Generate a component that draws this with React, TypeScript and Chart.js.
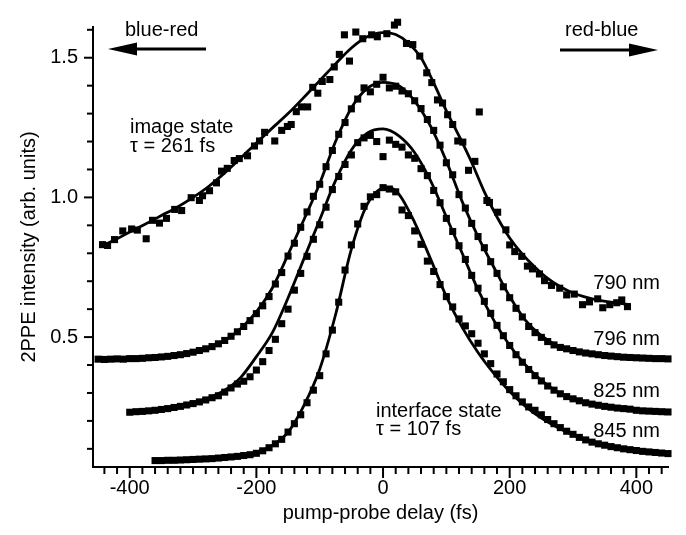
import React, { useEffect, useRef } from 'react';
import { Chart, registerables } from 'chart.js';
Chart.register(...registerables);

const FONT = "'Liberation Sans', Arial, Helvetica, sans-serif";

// tick labels
const xTickLabels = [-400, -200, 0, 200, 400];
const yTickLabels = [0.5, 1.0, 1.5];

// 790 nm (image state) measured points
const delay790 = [-443,-435,-424,-411,-397,-388,-374,-364,-353,-342,-329,-318,-303,-290,-285,-274,-263,-255,-246,-235,-227,-214,-203,-195,-187,-171,-160,-151,-145,-137,-129,-119,-111,-103,-96,-84,-77,-69,-61,-53,-43,-32,-18,-9,-1,6,18,23,37,47,58,69,77,86,94,102,110,118,126,135,145,152,164,168,181,194,200,208,219,228,236,247,255,266,279,290,302,315,326,339,347,358,369,377,386];
const signal790 = [0.831,0.828,0.849,0.880,0.887,0.883,0.852,0.918,0.908,0.925,0.957,0.953,0.999,0.989,1.006,1.024,1.052,1.094,1.104,1.132,1.139,1.149,1.184,1.202,1.233,1.202,1.240,1.254,1.261,1.307,1.324,1.324,1.394,1.373,1.415,1.422,1.467,1.512,1.582,1.488,1.592,1.568,1.582,1.575,1.631,1.586,1.617,1.627,1.551,1.547,1.506,1.446,1.411,1.349,1.338,1.296,1.261,1.202,1.198,1.097,1.129,1.306,0.989,0.982,0.947,0.884,0.830,0.806,0.789,0.754,0.744,0.726,0.702,0.685,0.675,0.651,0.654,0.616,0.626,0.637,0.605,0.616,0.623,0.633,0.609];

// 796 nm measured points
const delay796 = [-450,-440,-430,-420,-410,-400,-390,-380,-370,-360,-350,-340,-330,-320,-310,-300,-290,-280,-270,-260,-250,-240,-230,-220,-210,-200,-190,-180,-170,-160,-150,-140,-130,-120,-110,-100,-90,-80,-70,-60,-50,-40,-30,-20,-10,0,10,20,30,40,50,60,70,80,90,100,110,120,130,140,150,160,170,180,190,200,210,220,230,240,250,260,270,280,290,300,310,320,330,340,350,360,370,380,390,400,410,420,430,440,450];
const signal796 = [0.421,0.420,0.421,0.422,0.421,0.423,0.423,0.424,0.426,0.427,0.429,0.431,0.434,0.437,0.441,0.446,0.452,0.458,0.466,0.476,0.488,0.503,0.519,0.538,0.559,0.584,0.612,0.645,0.690,0.731,0.790,0.836,0.893,0.948,1.004,1.047,1.110,1.168,1.226,1.268,1.317,1.352,1.392,1.378,1.405,1.430,1.392,1.398,1.381,1.371,1.346,1.318,1.279,1.240,1.187,1.124,1.081,1.010,0.962,0.907,0.860,0.820,0.770,0.728,0.680,0.641,0.603,0.572,0.538,0.516,0.499,0.484,0.472,0.463,0.458,0.452,0.447,0.443,0.440,0.437,0.434,0.432,0.430,0.428,0.427,0.426,0.425,0.424,0.423,0.423,0.422];

// 825 nm measured points
const delay825 = [-400,-390,-380,-370,-360,-350,-340,-330,-320,-310,-300,-290,-280,-270,-260,-250,-240,-230,-220,-210,-200,-190,-180,-170,-160,-150,-140,-130,-120,-110,-100,-90,-80,-70,-60,-50,-40,-30,-20,-10,0,10,20,30,40,50,60,70,80,90,100,110,120,130,140,150,160,170,180,190,200,210,220,230,240,250,260,270,280,290,300,310,320,330,340,350,360,370,380,390,400,410,420,430,440,450];
const signal825 = [0.231,0.233,0.234,0.236,0.238,0.241,0.244,0.248,0.252,0.257,0.262,0.268,0.275,0.283,0.290,0.303,0.318,0.332,0.342,0.358,0.382,0.412,0.452,0.492,0.548,0.600,0.668,0.728,0.789,0.850,0.902,0.965,1.028,1.075,1.118,1.152,1.196,1.213,1.222,1.200,1.146,1.205,1.190,1.180,1.152,1.140,1.103,1.078,1.025,0.981,0.925,0.878,0.827,0.778,0.721,0.675,0.628,0.585,0.542,0.505,0.470,0.437,0.410,0.384,0.362,0.343,0.325,0.310,0.297,0.287,0.279,0.272,0.265,0.260,0.256,0.252,0.249,0.246,0.244,0.242,0.238,0.236,0.235,0.234,0.233,0.232];

// 845 nm (interface state) measured points
const delay845 = [-360,-350,-340,-330,-320,-310,-300,-290,-280,-270,-260,-250,-240,-230,-220,-210,-200,-190,-180,-170,-160,-150,-140,-130,-120,-110,-100,-90,-80,-70,-60,-50,-40,-30,-20,-10,0,10,20,30,40,50,60,70,80,90,100,110,120,130,140,150,160,170,180,190,200,210,220,230,240,250,260,270,280,290,300,310,320,330,340,350,360,370,380,390,400,410,420,430,440,450];
const signal845 = [0.058,0.058,0.059,0.059,0.060,0.061,0.062,0.063,0.064,0.065,0.067,0.069,0.071,0.073,0.076,0.079,0.084,0.093,0.104,0.118,0.134,0.160,0.190,0.222,0.265,0.310,0.362,0.440,0.525,0.625,0.740,0.830,0.905,0.968,1.002,1.010,1.035,1.030,1.020,0.955,0.935,0.880,0.832,0.772,0.735,0.688,0.645,0.608,0.565,0.540,0.512,0.478,0.440,0.405,0.368,0.340,0.312,0.290,0.268,0.250,0.238,0.222,0.205,0.190,0.176,0.163,0.152,0.141,0.132,0.124,0.118,0.113,0.108,0.104,0.100,0.097,0.094,0.091,0.089,0.087,0.085,0.083];

// fitted curves
const fitDelay790 = [-443,-420,-400,-375,-350,-325,-300,-275,-250,-225,-200,-175,-150,-125,-100,-75,-50,-25,0,20,40,60,80,100,120,140,160,180,200,220,240,260,280,300,340,390];
const fit790 = [0.826,0.852,0.876,0.905,0.935,0.965,1.0,1.04,1.088,1.14,1.195,1.248,1.30,1.358,1.418,1.478,1.535,1.575,1.59,1.583,1.553,1.50,1.41,1.31,1.22,1.125,1.02,0.93,0.855,0.797,0.75,0.71,0.68,0.658,0.632,0.616];

const fitDelay796 = [-450,-400,-350,-300,-275,-250,-225,-200,-175,-150,-125,-100,-75,-50,-25,0,25,50,75,100,125,150,175,200,225,250,275,300,350,400,450];
const fit796 = [0.42,0.423,0.43,0.446,0.462,0.488,0.53,0.59,0.675,0.795,0.92,1.05,1.2,1.32,1.39,1.412,1.40,1.345,1.255,1.13,0.985,0.86,0.75,0.645,0.56,0.505,0.47,0.452,0.434,0.425,0.421];

const fitDelay825 = [-400,-350,-300,-275,-250,-225,-200,-175,-150,-125,-100,-75,-50,-25,0,25,50,75,100,125,150,175,200,225,250,275,300,350,400,450];
const fit825 = [0.232,0.243,0.265,0.283,0.31,0.355,0.43,0.515,0.64,0.78,0.92,1.06,1.17,1.23,1.245,1.22,1.16,1.06,0.93,0.80,0.67,0.56,0.47,0.40,0.345,0.305,0.28,0.25,0.237,0.232];

const fitDelay845 = [-358,-300,-250,-200,-175,-150,-125,-100,-75,-50,-25,0,10,25,50,75,100,125,150,175,200,225,250,300,350,400,450];
const fit845 = [0.058,0.063,0.071,0.088,0.112,0.16,0.255,0.385,0.58,0.815,0.975,1.033,1.035,1.012,0.91,0.78,0.645,0.535,0.445,0.37,0.305,0.252,0.21,0.15,0.115,0.095,0.082];

const toPoints = (xs: number[], ys: number[]) => xs.map((x, i) => ({ x, y: ys[i] }));

const pointSet = (label: string, xs: number[], ys: number[]) => ({
  label,
  data: toPoints(xs, ys),
  showLine: false,
  pointStyle: 'rect',
  pointRadius: 5,
  pointBorderWidth: 0,
  pointBackgroundColor: '#000',
  backgroundColor: '#000',
  borderColor: '#000',
  clip: false,
});

const fitSet = (label: string, xs: number[], ys: number[]) => ({
  label,
  data: toPoints(xs, ys),
  showLine: true,
  pointRadius: 0,
  borderColor: '#000',
  borderWidth: 2.8,
  cubicInterpolationMode: 'monotone',
  fill: false,
  clip: false,
});

const decorations = {
  id: 'decorations',
  afterDraw(chart: any) {
    const { ctx, chartArea } = chart;
    const xs = chart.scales.x;
    const ys = chart.scales.y;
    ctx.save();
    ctx.strokeStyle = '#000';
    ctx.fillStyle = '#000';
    ctx.lineWidth = 2;
    // x ticks (every 20 fs, major every 200 fs)
    for (let v = -440; v <= 440; v += 20) {
      const px = xs.getPixelForValue(v);
      const major = xTickLabels.includes(v);
      ctx.beginPath();
      ctx.moveTo(px, chartArea.bottom);
      ctx.lineTo(px, chartArea.bottom + (major ? 11 : 7));
      ctx.stroke();
    }
    // y ticks (every 0.1, major every 0.5)
    for (let k = 1; k <= 16; k++) {
      const v = k / 10;
      const py = ys.getPixelForValue(v);
      const major = k % 5 === 0;
      ctx.beginPath();
      ctx.moveTo(chartArea.left, py);
      ctx.lineTo(chartArea.left - (major ? 9 : 6), py);
      ctx.stroke();
    }
    // texts
    ctx.font = `20px ${FONT}`;
    ctx.textBaseline = 'alphabetic';
    ctx.textAlign = 'left';
    ctx.fillText('blue-red', 125, 36);
    ctx.fillText('red-blue', 565, 36);
    ctx.fillText('image state', 130, 133);
    ctx.fillText('\u03C4 = 261 fs', 130, 152);
    ctx.fillText('interface state', 376, 417);
    ctx.fillText('\u03C4 = 107 fs', 376, 435);
    ctx.textAlign = 'right';
    ctx.fillText('790 nm', 660, 289);
    ctx.fillText('796 nm', 660, 345);
    ctx.fillText('825 nm', 660, 397);
    ctx.fillText('845 nm', 660, 437);
    // arrows
    ctx.lineWidth = 3;
    ctx.beginPath();
    ctx.moveTo(206, 49);
    ctx.lineTo(130, 49);
    ctx.stroke();
    ctx.beginPath();
    ctx.moveTo(108, 49);
    ctx.lineTo(137, 42.5);
    ctx.lineTo(137, 55.5);
    ctx.closePath();
    ctx.fill();
    ctx.beginPath();
    ctx.moveTo(560, 50);
    ctx.lineTo(636, 50);
    ctx.stroke();
    ctx.beginPath();
    ctx.moveTo(658, 50);
    ctx.lineTo(629, 43.5);
    ctx.lineTo(629, 56.5);
    ctx.closePath();
    ctx.fill();
    ctx.restore();
  },
};

export default function App() {
  const canvasRef = useRef<HTMLCanvasElement | null>(null);

  useEffect(() => {
    const canvas = canvasRef.current;
    if (!canvas) return;
    const chart = new Chart(canvas, {
      type: 'scatter',
      data: {
        datasets: [
          fitSet('fit 790 nm', fitDelay790, fit790),
          fitSet('fit 796 nm', fitDelay796, fit796),
          fitSet('fit 825 nm', fitDelay825, fit825),
          fitSet('fit 845 nm', fitDelay845, fit845),
          pointSet('790 nm', delay790, signal790),
          pointSet('796 nm', delay796, signal796),
          pointSet('825 nm', delay825, signal825),
          pointSet('845 nm', delay845, signal845),
        ] as any,
      },
      options: {
        animation: false,
        responsive: false,
        maintainAspectRatio: false,
        layout: { padding: { top: 15, right: 18, left: 0, bottom: 0 } },
        plugins: {
          legend: { display: false },
          tooltip: { enabled: false },
        },
        scales: {
          x: {
            type: 'linear',
            position: 'bottom',
            min: -458,
            max: 450,
            afterBuildTicks: (axis: any) => {
              axis.ticks = xTickLabels.map((v) => ({ value: v }));
            },
            afterFit: (axis: any) => {
              axis.height = 68;
            },
            grid: { display: false, drawTicks: false },
            border: { display: true, color: '#000', width: 2 },
            ticks: {
              color: '#000',
              padding: 9,
              maxRotation: 0,
              autoSkip: false,
              font: { family: FONT, size: 20 },
              callback: (v: any) => String(v),
            },
            title: {
              display: true,
              text: 'pump-probe delay (fs)',
              color: '#000',
              font: { family: FONT, size: 20 },
              padding: { top: 0, bottom: 10 },
            },
          },
          y: {
            type: 'linear',
            min: 0.035,
            max: 1.61,
            afterBuildTicks: (axis: any) => {
              axis.ticks = yTickLabels.map((v) => ({ value: v }));
            },
            afterFit: (axis: any) => {
              axis.width = 93;
            },
            grid: { display: false, drawTicks: false },
            border: { display: true, color: '#000', width: 2 },
            ticks: {
              color: '#000',
              padding: 15,
              autoSkip: false,
              font: { family: FONT, size: 20 },
              callback: (v: any) => Number(v).toFixed(1),
            },
            title: {
              display: true,
              text: '2PPE intensity (arb. units)',
              color: '#000',
              font: { family: FONT, size: 20 },
              padding: { top: 17, bottom: 0 },
            },
          },
        },
      } as any,
      plugins: [decorations],
    });
    return () => chart.destroy();
  }, []);

  return (
    <div style={{ position: 'fixed', left: 0, top: 0, width: 686, height: 535, background: '#fff' }}>
      <canvas ref={canvasRef} width={686} height={535} />
    </div>
  );
}
